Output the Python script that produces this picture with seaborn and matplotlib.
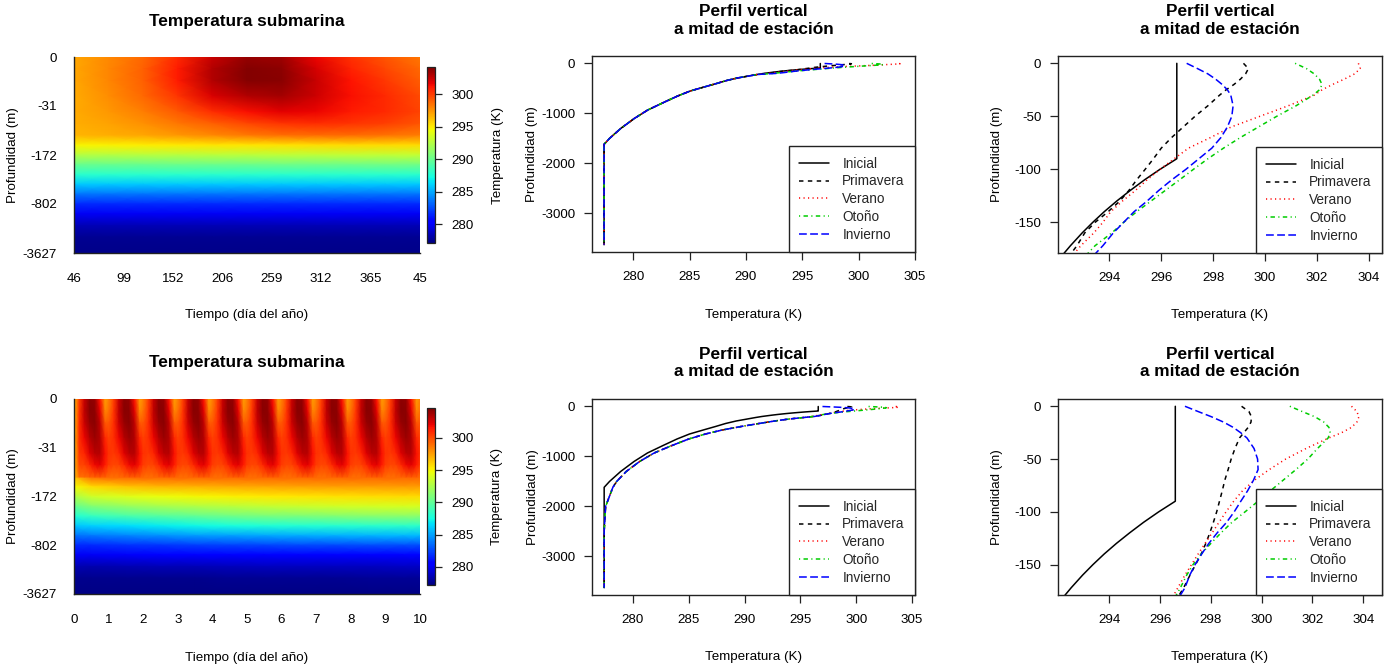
import numpy as np
import matplotlib
matplotlib.use("Agg")
import matplotlib.pyplot as plt
import seaborn as sns

# ---------------------------------------------------------------- profiles
# model levels used for the vertical profiles (m below the surface)
prof_depth = [0, 5, 10, 15, 20, 25, 30, 40, 50, 60, 70, 80, 90, 100, 110, 120,
              130, 140, 150, 160, 172, 185, 200, 220, 250, 290, 340, 400, 470,
              550, 650, 780, 930, 1100, 1300, 1500, 1617, 2000, 2500, 3000, 3627]

# initial condition (K)
t_inicial = [296.6, 296.6, 296.6, 296.6, 296.6, 296.6, 296.6, 296.6, 296.6,
             296.6, 296.6, 296.6, 296.6, 295.95, 295.35, 294.8, 294.28, 293.8,
             293.36, 292.95, 292.5, 292.05, 291.55, 291.0, 290.25, 289.25, 288.3,
             287.4, 286.3, 285.07, 283.95, 282.7, 281.3, 280.1, 278.9, 277.9,
             277.42, 277.42, 277.42, 277.42, 277.42]

# mid-season profiles of the first year, upper 200 m (K)
y1_primavera = [299.17, 299.36, 299.25, 299.05, 298.8, 298.5, 298.25, 297.8, 297.3,
                296.85, 296.4, 296.0, 295.7, 295.38, 295.05, 294.75, 294.4, 293.95,
                293.45, 293.05, 292.75, 292.35, 291.8]
y1_verano = [303.6, 303.67, 303.45, 303.05, 302.6, 302.2, 301.9, 300.9, 299.8,
             298.7, 297.9, 297.05, 296.5, 295.95, 295.45, 295.0, 294.5, 294.05,
             293.75, 293.4, 292.9, 292.45, 291.85]
y1_otono = [301.16, 301.6, 301.9, 302.1, 302.2, 302.1, 301.85, 301.2, 300.45,
            299.75, 299.05, 298.4, 297.8, 297.24, 296.7, 296.15, 295.6, 295.05,
            294.55, 294.09, 293.45, 292.95, 292.4]
y1_invierno = [296.98, 297.4, 297.8, 298.1, 298.35, 298.55, 298.68, 298.77, 298.72,
               298.55, 298.3, 297.95, 297.45, 296.95, 296.4, 295.9, 295.45, 294.95,
               294.55, 294.15, 293.75, 293.25, 292.6]
# below 200 m after the first year (K)
y1_deep = [291.0, 290.25, 289.25, 288.3, 287.4, 286.3, 285.07, 283.95, 282.7,
           281.3, 280.1, 278.9, 277.9, 277.42, 277.42, 277.42, 277.42, 277.42]

# mid-season profiles of the tenth year, upper 200 m (K)
y10_primavera = [299.21, 299.5, 299.6, 299.58, 299.47, 299.3, 299.13, 298.95, 298.8,
                 298.68, 298.55, 298.45, 298.34, 298.23, 298.1, 297.96, 297.8,
                 297.62, 297.4, 297.18, 296.93, 296.6, 296.2]
y10_verano = [303.54, 303.75, 303.83, 303.75, 303.54, 303.15, 302.65, 301.75, 300.95,
              300.3, 299.72, 299.25, 298.9, 298.6, 298.32, 298.05, 297.77, 297.5,
              297.24, 296.98, 296.7, 296.4, 296.0]
y10_otono = [301.11, 301.6, 302.1, 302.45, 302.65, 302.7, 302.62, 302.2, 301.82,
             301.35, 300.85, 300.35, 299.86, 299.35, 298.83, 298.4, 298.0, 297.62,
             297.3, 297.05, 296.8, 296.5, 296.1]
y10_invierno = [296.98, 297.5, 298.03, 298.5, 298.88, 299.17, 299.42, 299.7, 299.84,
                299.86, 299.68, 299.45, 299.18, 298.92, 298.62, 298.25, 297.92,
                297.64, 297.38, 297.17, 296.98, 296.65, 296.25]
# below 200 m after ten years (K)
y10_deep = [295.3, 294.0, 292.7, 291.3, 289.7, 288.0, 286.5, 285.0, 283.5, 281.9,
            280.6, 279.4, 278.54, 278.2, 277.55, 277.42, 277.42, 277.42]

# ---------------------------------------------------------------- sections
# position of each row on the level axis (0 = surface, 1 = bottom level)
hm_levels = [0, 0.06, 0.12, 0.2, 0.28, 0.34, 0.4, 0.45, 0.5, 0.55, 0.6, 0.65,
             0.7, 0.75, 0.8, 0.86, 0.92, 1.0]
level_ticks = [0, 0.25, 0.5, 0.75, 1.0]
level_labels = ["0", "-31", "-172", "-802", "-3627"]

# one-year run: time samples (axis units) and temperature section (K)
day_ticks = [0, 1, 2, 3, 4, 5, 6, 7]
day_labels = ["46", "99", "152", "206", "259", "312", "365", "45"]
year1_time = [0, 0.7, 1.4, 2.1, 2.8, 3.5, 4.2, 4.9, 5.6, 6.3, 7.0]
year1_section = [
    [296.9, 297.8, 298.8, 300.6, 302.5, 303.6, 303.4, 301.6, 300.3, 299.3, 298.3],
    [296.9, 297.9, 299.0, 301.0, 303.0, 304.0, 303.8, 302.1, 300.8, 299.7, 298.7],
    [296.9, 297.9, 299.0, 301.0, 303.0, 304.0, 303.9, 302.5, 301.2, 300.1, 299.1],
    [296.8, 297.7, 298.7, 300.2, 302.0, 303.0, 303.3, 302.4, 301.3, 300.5, 299.6],
    [296.8, 297.4, 298.1, 299.2, 300.4, 301.3, 301.8, 301.6, 301.0, 300.5, 299.8],
    [296.7, 297.1, 297.6, 298.3, 299.0, 299.7, 300.2, 300.4, 300.2, 299.9, 299.3],
    [296.5, 296.7, 297.0, 297.4, 297.8, 298.2, 298.5, 298.6, 298.6, 298.4, 298.1],
    [294.7, 294.8, 294.9, 295.0, 295.1, 295.2, 295.3, 295.4, 295.5, 295.5, 295.5],
    [292.5, 292.5, 292.6, 292.6, 292.7, 292.7, 292.8, 292.8, 292.9, 292.9, 293.0],
    [290.0, 290.0, 290.0, 290.1, 290.1, 290.1, 290.2, 290.2, 290.2, 290.3, 290.3],
    [287.9] * 11,
    [285.8] * 11,
    [283.6] * 11,
    [281.6] * 11,
    [279.9] * 11,
    [278.4] * 11,
    [277.6] * 11,
    [277.4] * 11,
]

# ten-year run, mixed layer: annual cycle repeated every year
n_years = 10
upper_levels = [0, 0.06, 0.12, 0.2, 0.28, 0.34, 0.4]
cycle_phase = [0.0, 0.15, 0.3, 0.45, 0.6, 0.75, 0.9]
cycle_upper = [
    [298.3, 300.3, 302.8, 304.2, 304.0, 301.5, 297.6],
    [298.8, 300.6, 303.0, 304.3, 304.2, 302.2, 298.2],
    [299.5, 300.8, 302.8, 304.0, 304.3, 303.0, 299.5],
    [300.3, 300.8, 302.0, 303.3, 303.9, 303.4, 301.0],
    [300.7, 300.5, 301.0, 302.3, 303.2, 303.3, 301.7],
    [300.4, 300.0, 300.2, 300.9, 301.9, 302.2, 301.3],
    [299.0, 298.9, 299.0, 299.2, 299.4, 299.5, 299.3],
]
upper_start = [296.6, 296.6, 296.6, 296.6, 296.6, 296.6, 296.5]

# ten-year run, thermocline and deep ocean: slow drift (values at mid-year)
deep_levels = [0.4, 0.45, 0.5, 0.55, 0.6, 0.65, 0.7, 0.75, 0.8, 0.86, 0.92, 1.0]
deep_time = [0, 0.5, 1.5, 2.5, 3.5, 4.5, 5.5, 6.5, 7.5, 8.5, 9.5, 10]
deep_section = [
    [296.5, 299.0, 299.2, 299.2, 299.2, 299.2, 299.2, 299.2, 299.2, 299.2, 299.2, 299.2],
    [294.8, 295.8, 296.4, 296.8, 297.0, 297.2, 297.3, 297.4, 297.5, 297.5, 297.6, 297.6],
    [292.6, 293.6, 294.2, 294.6, 294.9, 295.1, 295.3, 295.5, 295.6, 295.7, 295.8, 295.8],
    [290.2, 291.2, 291.8, 292.3, 292.7, 293.0, 293.3, 293.5, 293.7, 293.8, 294.0, 294.0],
    [288.0, 288.6, 289.2, 289.7, 290.1, 290.5, 290.8, 291.0, 291.2, 291.4, 291.5, 291.5],
    [285.9, 286.2, 286.6, 287.0, 287.3, 287.6, 287.8, 288.0, 288.1, 288.2, 288.3, 288.3],
    [283.7, 283.9, 284.2, 284.5, 284.8, 285.0, 285.2, 285.3, 285.4, 285.5, 285.6, 285.6],
    [281.7, 281.8, 282.0, 282.1, 282.3, 282.4, 282.5, 282.6, 282.6, 282.7, 282.7, 282.7],
    [280.0, 280.0, 280.1, 280.2, 280.3, 280.4, 280.5, 280.5, 280.6, 280.6, 280.7, 280.7],
    [278.4, 278.3, 278.4, 278.5, 278.5, 278.6, 278.7, 278.7, 278.8, 278.8, 278.9, 278.9],
    [277.6, 277.6, 277.6, 277.6, 277.6, 277.7, 277.7, 277.7, 277.7, 277.8, 277.8, 277.8],
    [277.4] * 12,
]
year_ticks = list(range(11))

# ---------------------------------------------------------------- style
sns.set_theme(style="white")
plt.rcParams["font.family"] = ["Liberation Sans", "DejaVu Sans"]
plt.rcParams["axes.unicode_minus"] = False
FS = 9.6
LW = 1.1
line_styles = {
    "Inicial": ("black", "-"),
    "Primavera": ("black", (0, (2.9, 2.9))),
    "Verano": ("#FF0000", (0, (0.75, 2.2))),
    "Otoño": ("#00CD00", (0, (0.75, 2.2, 2.9, 2.2))),
    "Invierno": ("#0000FF", (0, (5.1, 2.2))),
}

W, H = 1393, 672
fig = plt.figure(figsize=(W / 100, H / 100), dpi=100)
fig.patch.set_facecolor("white")


def rect(x0, y0, x1, y1):
    return [x0 / W, 1 - y1 / H, (x1 - x0) / W, (y1 - y0) / H]


def fpos(x, y):
    return (x / W, 1 - y / H)


def place_labels(ax, xl, xlab_y, yl, ylab_x):
    ax.set_xlabel(xl, fontsize=FS, color="black")
    ax.set_ylabel(yl, fontsize=FS, color="black")
    bb = ax.get_position()
    ax.xaxis.label.set_va("center")
    ax.yaxis.label.set_va("center")
    ax.xaxis.set_label_coords((bb.x0 + bb.x1) / 2, 1 - xlab_y / H,
                              transform=fig.transFigure)
    ax.yaxis.set_label_coords(ylab_x / W, (bb.y0 + bb.y1) / 2,
                              transform=fig.transFigure)


def style_section(ax, cax, mesh, xlim, ticks, labels, xlab_y, cb_lab_x):
    ax.set_xlim(*xlim)
    ax.set_ylim(1, 0)
    ax.set_yticks(level_ticks, level_labels)
    ax.set_xticks(ticks, labels)
    for s in ("top", "right"):
        ax.spines[s].set_visible(False)
    for s in ("left", "bottom"):
        ax.spines[s].set_color("#222222")
        ax.spines[s].set_linewidth(1.0)
    ax.tick_params(axis="both", direction="out", length=6.5, width=0.9,
                   colors="#222222", labelcolor="black", labelsize=FS)
    ax.tick_params(axis="x", pad=8)
    ax.tick_params(axis="y", pad=6)
    place_labels(ax, "Tiempo (día del año)", xlab_y, "Profundidad (m)", 13.3)

    cb = fig.colorbar(mesh, cax=cax, ticks=[280, 285, 290, 295, 300])
    cb.outline.set_linewidth(0.9)
    cb.outline.set_edgecolor("#222222")
    cax.tick_params(direction="out", length=4.8, width=0.9, labelsize=FS, pad=7,
                    colors="#222222", labelcolor="black")
    cb.set_label("Temperatura (K)", fontsize=FS, color="black")
    cbb = cax.get_position()
    cax.yaxis.label.set_va("center")
    cax.yaxis.set_label_coords(cb_lab_x / W, (cbb.y0 + cbb.y1) / 2,
                               transform=fig.transFigure)


def profiles(ax, series, xlim, ylim, xticks, yticks, xlab_y, ylab_x):
    z = -np.asarray(prof_depth, dtype=float)
    for name, temps in series:
        color, ls = line_styles[name]
        sns.lineplot(x=temps, y=z, sort=False, estimator=None, orient="y",
                     color=color, linestyle=ls, linewidth=LW, label=name, ax=ax)
    ax.set_xlim(*xlim)
    ax.set_ylim(*ylim)
    ax.set_xticks(xticks)
    ax.set_yticks(yticks)
    for s in ax.spines.values():
        s.set_visible(True)
        s.set_color("#222222")
        s.set_linewidth(1.0)
    ax.tick_params(axis="both", direction="out", length=6.0, width=0.9,
                   colors="#222222", labelcolor="black", labelsize=FS,
                   bottom=True, left=True)
    ax.tick_params(axis="x", pad=8)
    ax.tick_params(axis="y", pad=6)
    place_labels(ax, "Temperatura (K)", xlab_y, "Profundidad (m)", ylab_x)
    leg = ax.legend(loc="lower right", frameon=True, fancybox=False,
                    edgecolor="#222222", framealpha=1, borderaxespad=0,
                    fontsize=9.8, handlelength=2.2, handletextpad=1.0,
                    labelspacing=0.28, borderpad=0.75)
    leg.get_frame().set_linewidth(1.0)
    leg.set_zorder(10)


def title(x, y, text):
    fig.text(*fpos(x, y), text, ha="center", va="center", fontsize=12.4,
             fontweight="bold", linespacing=1.2, color="black")


series_y1 = [("Inicial", t_inicial),
             ("Primavera", y1_primavera + y1_deep),
             ("Verano", y1_verano + y1_deep),
             ("Otoño", y1_otono + y1_deep),
             ("Invierno", y1_invierno + y1_deep)]
series_y10 = [("Inicial", t_inicial),
              ("Primavera", y10_primavera + y10_deep),
              ("Verano", y10_verano + y10_deep),
              ("Otoño", y10_otono + y10_deep),
              ("Invierno", y10_invierno + y10_deep)]

# mixed layer of the ten-year run: the annual cycle laid out year after year
time10 = np.concatenate([y + np.asarray(cycle_phase) for y in range(n_years)]
                        + [np.array([float(n_years)])])
upper10 = np.hstack([np.tile(np.asarray(cycle_upper), n_years),
                     np.asarray(cycle_upper)[:, :1]])
upper10[:, 0] = upper_start

# ---------------------------------------------------------------- top row
ax = fig.add_axes(rect(74, 57, 420, 253))
cax = fig.add_axes(rect(427, 67, 435, 243))
mesh = ax.pcolormesh(year1_time, hm_levels, np.asarray(year1_section),
                     shading="gouraud", cmap="jet", vmin=277.1, vmax=304.2)
style_section(ax, cax, mesh, (0, 7), day_ticks, day_labels, 315, 498)
title(247, 21.5, "Temperatura submarina")

ax = fig.add_axes(rect(592, 56, 915, 252))
profiles(ax, series_y1, (276.35, 305.0), (-3772, 150), [280, 285, 290, 295, 300, 305],
         [0, -1000, -2000, -3000], 315, 532)
title(753.5, 20.5, "Perfil vertical\na mitad de estación")

ax = fig.add_axes(rect(1058, 56, 1382, 253))
profiles(ax, series_y1, (292.02, 304.51), (-178.9, 6.9), [294, 296, 298, 300, 302, 304],
         [0, -50, -100, -150], 315, 997)
title(1220, 20.5, "Perfil vertical\na mitad de estación")

# ---------------------------------------------------------------- bottom row
ax = fig.add_axes(rect(74, 399, 420, 594))
cax = fig.add_axes(rect(427, 408, 435, 585))
ax.pcolormesh(deep_time, deep_levels, np.asarray(deep_section),
              shading="gouraud", cmap="jet", vmin=277.2, vmax=304.6)
mesh = ax.pcolormesh(time10, upper_levels, upper10,
                     shading="gouraud", cmap="jet", vmin=277.2, vmax=304.6)
style_section(ax, cax, mesh, (0, 10), year_ticks, [str(v) for v in year_ticks],
              657.5, 497)
title(247, 362.5, "Temperatura submarina")

ax = fig.add_axes(rect(592, 399, 915, 595))
profiles(ax, series_y10, (276.33, 305.27), (-3772, 150), [280, 285, 290, 295, 300, 305],
         [0, -1000, -2000, -3000], 657, 533)
title(753.5, 363, "Perfil vertical\na mitad de estación")

ax = fig.add_axes(rect(1058, 399, 1382, 595))
profiles(ax, series_y10, (291.98, 304.74), (-178.9, 6.9), [294, 296, 298, 300, 302, 304],
         [0, -50, -100, -150], 657, 997)
title(1220, 363, "Perfil vertical\na mitad de estación")

fig.savefig("out.png", dpi=100, facecolor="white")
